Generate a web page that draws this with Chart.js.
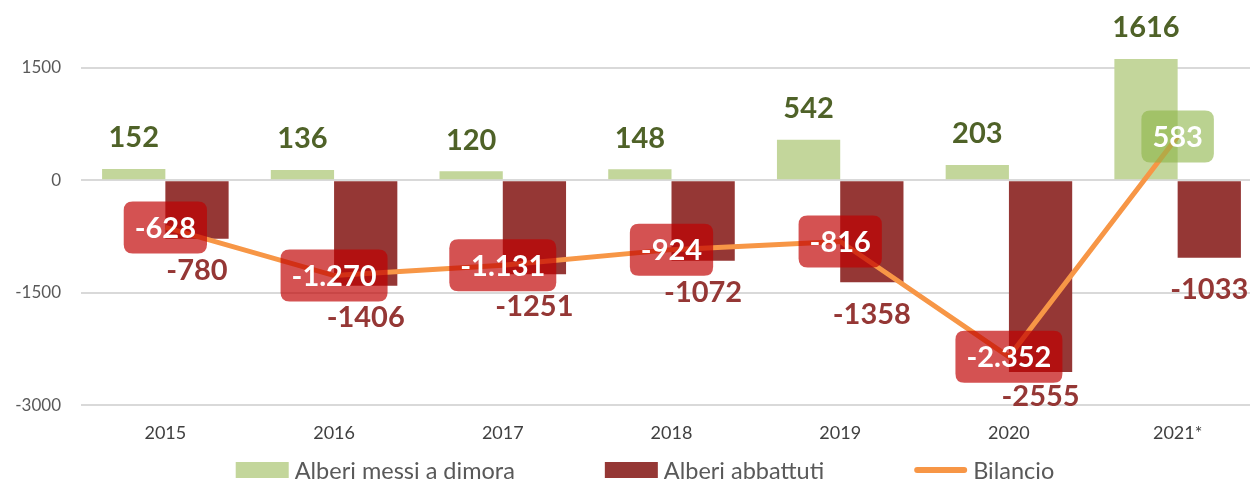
<!DOCTYPE html>
<html>
<head>
<meta charset="utf-8">
<script src="https://cdn.jsdelivr.net/npm/chart.js@4.4.1/dist/chart.umd.min.js"></script>
<style>
  html, body { margin: 0; padding: 0; background: #fff; overflow: hidden; }
  body { width: 1250px; height: 481px; position: relative; }
  #wrap { position: absolute; left: 0; top: -75px; width: 1262px; height: 556px; }
</style>
</head>
<body>
<div id="wrap"><canvas id="chart"></canvas></div>
<script>
// dati
const years = ['2015', '2016', '2017', '2018', '2019', '2020', '2021*'];
const planted = [152, 136, 120, 148, 542, 203, 1616];
const cut = [-780, -1406, -1251, -1072, -1358, -2555, -1033];
const balance = [-628, -1270, -1131, -924, -816, -2352, 583];
const yTicks = [-3000, -1500, 0, 1500, 3000];

const FONT = 'Lato, "Open Sans", sans-serif';

// separatore delle migliaia all'italiana
const itNum = v => {
  const s = Math.abs(v).toString().replace(/\B(?=(\d{3})+(?!\d))/g, '.');
  return (v < 0 ? '-' : '') + s;
};

function roundRect(ctx, x, y, w, h, r) {
  ctx.beginPath();
  ctx.moveTo(x + r, y);
  ctx.lineTo(x + w - r, y);
  ctx.quadraticCurveTo(x + w, y, x + w, y + r);
  ctx.lineTo(x + w, y + h - r);
  ctx.quadraticCurveTo(x + w, y + h, x + w - r, y + h);
  ctx.lineTo(x + r, y + h);
  ctx.quadraticCurveTo(x, y + h, x, y + h - r);
  ctx.lineTo(x, y + r);
  ctx.quadraticCurveTo(x, y, x + r, y);
  ctx.closePath();
}

// etichette dei valori
const valueLabels = {
  id: 'valueLabels',
  afterDatasetsDraw(chart) {
    const ctx = chart.ctx;
    const bottom = chart.chartArea.bottom;
    ctx.save();
    ctx.textAlign = 'center';
    ctx.textBaseline = 'middle';
    ctx.font = 'bold 29px ' + FONT;

    chart.getDatasetMeta(0).data.forEach((bar, i) => {
      ctx.fillStyle = '#4f6228';
      ctx.fillText(planted[i], bar.x, bar.y - 31);
    });
    chart.getDatasetMeta(1).data.forEach((bar, i) => {
      ctx.fillStyle = '#953735';
      ctx.fillText(cut[i], bar.x, Math.min(bar.y + 32, bottom - 9));
    });

    // box del bilancio
    chart.getDatasetMeta(2).data.forEach((pt, i) => {
      const txt = itNum(balance[i]);
      const w = ctx.measureText(txt).width + 22;
      const h = 52;
      ctx.fillStyle = balance[i] < 0 ? 'rgba(192,0,0,0.68)' : 'rgba(140,180,70,0.6)';
      roundRect(ctx, pt.x - w / 2, pt.y - h / 2, w, h, 9);
      ctx.fill();
      ctx.fillStyle = '#fff';
      ctx.fillText(txt, pt.x, pt.y + 1);
    });
    ctx.restore();
  }
};

// legenda disegnata a mano sotto il grafico
const bottomLegend = {
  id: 'bottomLegend',
  afterDraw(chart) {
    const ctx = chart.ctx;
    const items = chart.data.datasets.map(ds => ({
      text: ds.label,
      color: ds.type === 'line' ? ds.borderColor : ds.backgroundColor,
      line: ds.type === 'line'
    }));
    const boxW = 53, gapText = 6, gapItem = 90;
    ctx.save();
    ctx.font = '23.5px ' + FONT;
    ctx.textBaseline = 'middle';
    ctx.textAlign = 'left';
    let total = 0;
    items.forEach((it, i) => {
      it.w = ctx.measureText(it.text).width;
      total += boxW + gapText + it.w + (i ? gapItem : 0);
    });
    let x = 645 - total / 2;
    const y = chart.height - 11;
    items.forEach(it => {
      if (it.line) {
        ctx.strokeStyle = it.color;
        ctx.lineWidth = 6;
        ctx.lineCap = 'round';
        ctx.beginPath();
        ctx.moveTo(x + 3, y);
        ctx.lineTo(x + boxW - 3, y);
        ctx.stroke();
      } else {
        ctx.fillStyle = it.color;
        ctx.fillRect(x, y - 8, boxW, 16);
      }
      ctx.fillStyle = '#595959';
      ctx.fillText(it.text, x + boxW + gapText, y + 1);
      x += boxW + gapText + it.w + gapItem;
    });
    ctx.restore();
  }
};

const ctx = document.getElementById('chart').getContext('2d');
new Chart(ctx, {
  data: {
    labels: years,
    datasets: [
      {
        type: 'bar',
        label: 'Alberi messi a dimora',
        data: planted,
        backgroundColor: '#c3d69b',
        categoryPercentage: 0.75,
        barPercentage: 1,
        order: 1
      },
      {
        type: 'bar',
        label: 'Alberi abbattuti',
        data: cut,
        backgroundColor: '#953735',
        categoryPercentage: 0.75,
        barPercentage: 1,
        order: 1
      },
      {
        type: 'line',
        label: 'Bilancio',
        data: balance,
        borderColor: '#f79646',
        backgroundColor: '#f79646',
        borderWidth: 5,
        pointRadius: 0,
        tension: 0,
        order: 0
      }
    ]
  },
  options: {
    responsive: true,
    maintainAspectRatio: false,
    animation: false,
    layout: { padding: { left: 0, right: 0, top: 0, bottom: 28 } },
    scales: {
      x: {
        grid: { display: false },
        border: { display: false },
        ticks: { color: '#404040', font: { family: FONT, size: 18 }, padding: 9 }
      },
      y: {
        min: -3000,
        max: 3000,
        afterBuildTicks: s => { s.ticks = yTicks.map(v => ({ value: v })); },
        afterFit: s => { s.width = 81; },
        grid: { color: '#d9d9d9', lineWidth: 2, drawTicks: false },
        border: { display: false },
        ticks: {
          color: '#595959',
          font: { family: FONT, size: 17 },
          padding: 20,
          callback: v => String(v)
        }
      }
    },
    plugins: {
      tooltip: { enabled: false },
      legend: { display: false }
    }
  },
  plugins: [valueLabels, bottomLegend]
});
</script>
</body>
</html>
